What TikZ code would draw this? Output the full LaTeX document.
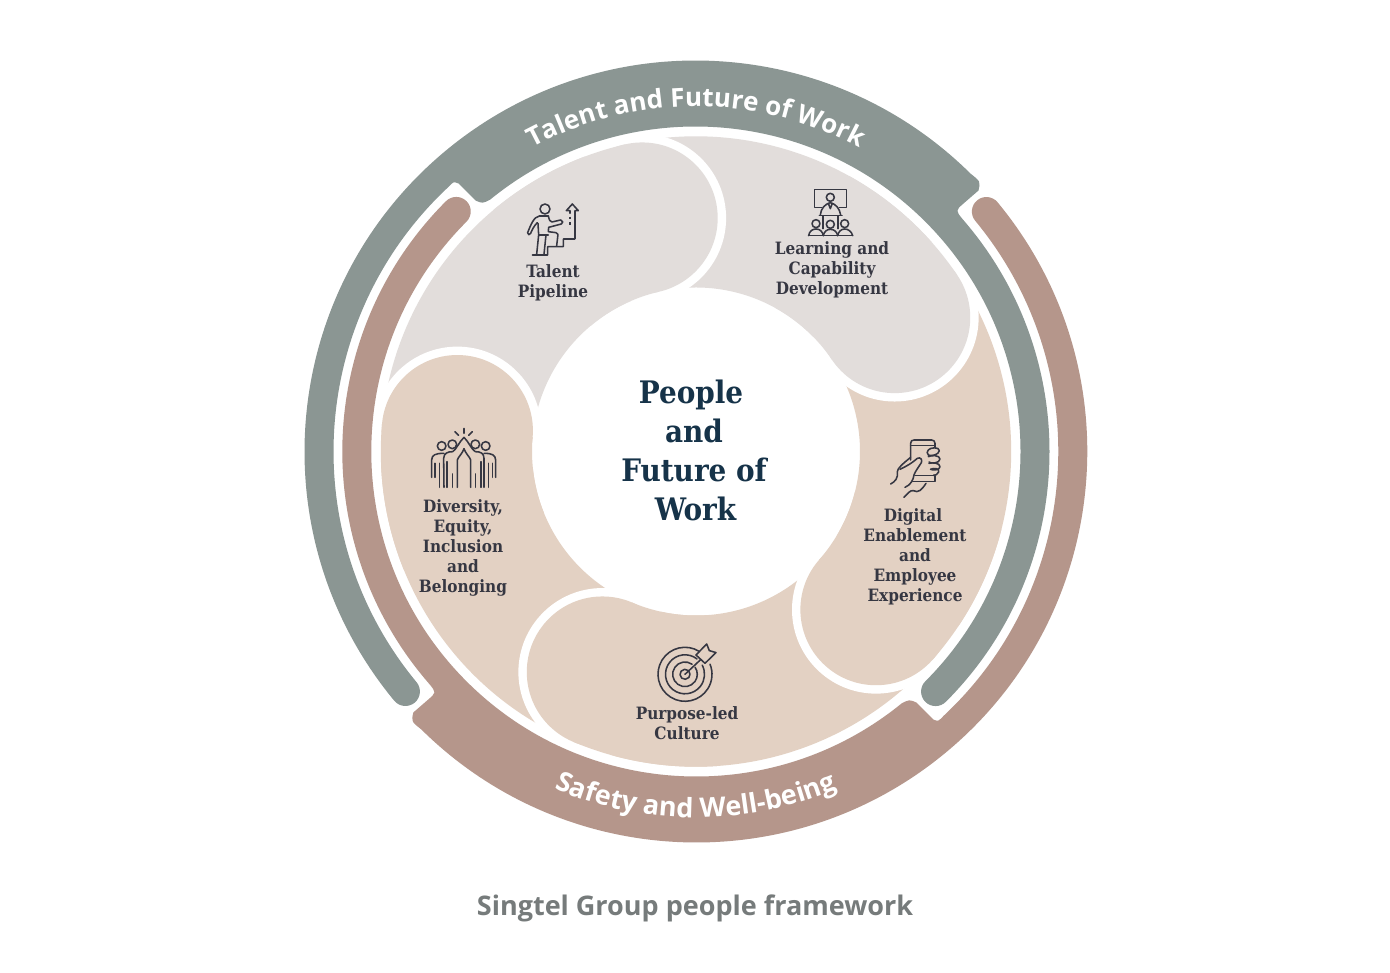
\documentclass[tikz,border=0pt]{standalone}
\usepackage{fontspec}
\usetikzlibrary{decorations.text}
\newfontfamily\labfont{DejaVu Serif Condensed}[BoldFont=* Bold]
\newfontfamily\capfont{Open Sans}
\definecolor{bandgrey}{HTML}{8B9693}
\definecolor{bandbrown}{HTML}{B5968B}
\definecolor{petalgrey}{HTML}{E2DDDB}
\definecolor{petaltan}{HTML}{E3D1C3}
\definecolor{inkdark}{HTML}{363742}
\definecolor{titleink}{HTML}{163349}
\definecolor{capink}{HTML}{767B7B}
\newcommand\bandtext{\capfont\bfseries\fontsize{26}{26}\selectfont}
\newcommand\bandtextb{\capfont\bfseries\fontsize{27}{27}\selectfont}
\newcommand\bandshape{%
  (219.6:391pt) arc[start angle=219.6,end angle=45.3,radius=391pt]
  .. controls (285pt,270pt) .. (283pt,261pt) -- (268pt,248pt)
  .. controls (260pt,241pt) .. (41:354pt)
  arc[start angle=41,end angle=-45,radius=354pt]
  arc[start angle=-45,delta angle=-180,radius=14.5pt]
  arc[start angle=-45,end angle=129.2,radius=325pt]
  .. controls (-213pt,248pt) .. (-220pt,251pt) -- (-237pt,268pt)
  .. controls (-242pt,270pt) .. (133.1:362pt)
  arc[start angle=133.1,end angle=219.6,radius=362pt]
  arc[start angle=39.6,delta angle=-180,radius=14.5pt] -- cycle}
\newcommand\sector[3]{\fill[#3] (#1:164pt) arc[start angle=#1,end angle=#2,radius=164pt] -- (#2:315.2pt) arc[start angle=#2,end angle=#1,radius=315.2pt] -- cycle;}
\tikzset{
  iconline/.style={draw=inkdark,line width=1.55pt,line cap=round,line join=round},
  lab/.style={text=inkdark,align=center,inner sep=0pt,font=\labfont\bfseries\fontsize{17}{20}\selectfont},
}
\begin{document}
\begin{tikzpicture}[x=1pt,y=1pt]
\useasboundingbox (0,0) rectangle (1390,-973);
\fill[white] (0,0) rectangle (1390,-973);
\begin{scope}[shift={(695.5,-451.5)}]
  % bands
  \fill[bandgrey] \bandshape;
  \begin{scope}[shift={(0.8,0)},rotate=180]\fill[bandbrown] \bandshape;\end{scope}
\end{scope}
\begin{scope}[shift={(696,-451.5)}]
  % petal bodies
  \sector{175}{103}{petalgrey}
  \sector{103}{34}{petalgrey}
  \sector{34}{-41.3}{petaltan}
  \sector{-41.3}{-113}{petaltan}
  \sector{-113}{-185}{petaltan}
  % heads, each cut into the next petal with a white ring
  \foreach \h/\c in {103/petalgrey,34/petalgrey,-41.3/petaltan,-113/petaltan,175/petaltan}{
    \fill[white] (\h:239.6pt) circle[radius=84pt];
    \pgfmathsetmacro\t{\h+27}
    \sector{\t}{\h}{\c}
    \fill[\c] (\h:239.6pt) circle[radius=75.6pt];
  }
  % band labels
  \path[decorate,decoration={text along path,text align=center,text color=white,text={|\bandtext|Talent and Future of Work}}]
    (140:345pt) arc[start angle=140,end angle=40,radius=345pt];
  \path[decorate,decoration={text along path,text align=center,text color=white,text={|\bandtextb|Safety and Well-being}}]
    (220:366pt) arc[start angle=220,end angle=320,radius=366pt];
\end{scope}

% centre title
\node[text=titleink,align=center,inner sep=0pt,font=\labfont\bfseries\fontsize{31}{39}\selectfont] (title) at (694,-450)
  {People\hspace*{6pt}\\and\\Future of\hspace*{7pt}\\\hspace*{3pt}Work};
% labels
\node[lab] (talent) at (553,-282.5) {Talent\\Pipeline};
\node[lab] (learning) at (832,-269.5) {Learning and\\Capability\\Development};
\node[lab] (digital) at (915,-556.5) {Digital\hspace*{4pt}\\Enablement\\and\\Employee\\Experience};
\node[lab] (purpose) at (687,-723.5) {Purpose-led\\Culture};
\node[lab] (diversity) at (463,-547.5) {Diversity,\\Equity,\\Inclusion\hspace*{3pt}\\and\hspace*{3pt}\\Belonging};
\node[text=capink,inner sep=0pt,font=\capfont\bfseries\fontsize{27}{30}\selectfont] (caption) at (695,-908) {Singtel Group people framework};

% icon: talent pipeline
\begin{scope}[shift={(380,-120)},x=0.3333pt,y=-0.3333pt]
  \draw[iconline] (495,267) circle[radius=15];
  \draw[iconline] (505,288) -- (478,288) .. controls (462,290) and (452,315) .. (443,338) .. controls (443,346) and (449,346) .. (452,340) .. controls (456,330) and (462,318) .. (472,308);
  \draw[iconline] (505,288) .. controls (508,300) and (510,306) .. (516,306) -- (542,300) .. controls (550,302) and (550,310) .. (544,312) -- (506,322) -- (505,335) -- (528,338) .. controls (534,340) and (536,345) .. (533,352) -- (530,378);
  \draw[iconline] (474,310) -- (476,345) -- (505,345);
  \draw[iconline] (476,345) -- (470,403);
  \draw[iconline] (498,345) -- (492,403);
  \draw[iconline] (457,405) -- (503,405) -- (503,380) -- (550,380) -- (550,357) -- (585,357) -- (585,272) -- (595,272) -- (577,252) -- (559,272) -- (570,272) -- (570,280);
  \draw[iconline,line cap=butt] (570,290) -- (570,298) (570,306) -- (570,316);
\end{scope}

% icon: learning
\begin{scope}[shift={(680,-120)},x=0.3333pt,y=-0.3333pt]
  \draw[iconline] (425,262) -- (403,262) -- (403,208) -- (500,208) -- (500,262) -- (478,262);
  \draw[iconline] (451,232) circle[radius=12];
  \draw[iconline] (421,285) .. controls (423,265) and (435,252) .. (451,248) .. controls (467,252) and (479,265) .. (482,285);
  \draw[iconline] (445,250) -- (451,266) -- (457,250);
  \draw[iconline] (418,287) -- (486,287);
  \draw[iconline] (429,287) -- (429,326) (474,287) -- (474,326);
  \draw[iconline] (408,311) circle[radius=12] (451,313) circle[radius=12] (494,311) circle[radius=12];
  \draw[iconline] (386,347) -- (518,347);
  \draw[iconline] (386,347) .. controls (388,333) and (398,327) .. (408,327) .. controls (420,327) and (428,335) .. (430,347);
  \draw[iconline] (430,347) .. controls (432,335) and (441,328) .. (451,328) .. controls (462,328) and (471,335) .. (473,347);
  \draw[iconline] (473,347) .. controls (475,335) and (484,327) .. (494,327) .. controls (505,327) and (515,335) .. (518,347);
\end{scope}

% icon: digital
\begin{scope}[shift={(780,-400)},x=0.3333pt,y=-0.3333pt]
  \draw[iconline] (392,180) -- (392,130) .. controls (392,123) and (396,120) .. (402,120) -- (455,120) .. controls (461,120) and (465,124) .. (465,130) -- (465,142);
  \draw[iconline] (392,136) -- (462,136);
  \draw[iconline] (405,226) -- (465,226) -- (465,244) -- (398,244);
  \draw[iconline] (445,150) .. controls (450,142) and (478,140) .. (478,152) .. controls (478,164) and (452,170) .. (445,165) .. controls (440,160) and (441,154) .. (445,150);
  \draw[iconline] (445,170) .. controls (452,165) and (480,165) .. (480,177) .. controls (480,190) and (452,192) .. (447,186);
  \draw[iconline] (447,190) .. controls (455,187) and (480,188) .. (480,200) .. controls (480,210) and (460,212) .. (452,208);
  \draw[iconline] (452,208) .. controls (460,203) and (480,205) .. (476,216) .. controls (474,224) and (465,226) .. (460,226);
  \draw[iconline] (332,252) .. controls (345,245) and (355,235) .. (352,215) .. controls (352,205) and (370,190) .. (392,172);
  \draw[iconline] (360,208) .. controls (365,205) and (390,195) .. (412,175) .. controls (422,170) and (428,180) .. (424,188) .. controls (418,198) and (405,215) .. (402,225) .. controls (400,240) and (392,255) .. (375,262);
  \draw[iconline] (372,292) .. controls (385,280) and (390,270) .. (400,272) .. controls (415,280) and (425,270) .. (438,250);
\end{scope}

% icon: purpose
\begin{scope}[shift={(685,-674.3)}]
  \draw[iconline] (58:27pt) arc[start angle=58,end angle=382,radius=27pt];
  \draw[iconline] (52:19.5pt) arc[start angle=52,end angle=388,radius=19.5pt];
  \draw[iconline] (55:12.3pt) arc[start angle=55,end angle=395,radius=12.3pt];
  \draw[iconline] (50:5pt) arc[start angle=50,end angle=400,radius=5pt];
  \draw[iconline] (0,0) -- (16,15);
  \draw[iconline] (11,19.3) -- (21.7,30.3) -- (24.3,23.7) -- (31,21.7) -- (20,11) -- cycle;
\end{scope}

% icon: diversity
\begin{scope}[shift={(370,-400)},x=0.3333pt,y=-0.3333pt]
  \draw[iconline] (282,85) -- (282,100) (255,95) -- (266,106) (307,95) -- (296,106);
  \draw[iconline] (215,138) circle[radius=13] (247,133) circle[radius=13] (316,133) circle[radius=13] (347,138) circle[radius=13];
  \draw[iconline] (262,262) -- (262,180) .. controls (265,170) and (278,160) .. (282,146) .. controls (286,160) and (299,170) .. (302,180) -- (302,262);
  \draw[iconline] (222,262) -- (221,175) .. controls (222,160) and (232,155) .. (248,155) .. controls (258,150) and (268,125) .. (282,112) .. controls (296,125) and (305,150) .. (316,155) .. controls (332,155) and (342,160) .. (342,175) -- (342,262);
  \draw[iconline] (185,232) -- (185,180) .. controls (186,165) and (195,160) .. (222,160);
  \draw[iconline] (377,232) -- (377,180) .. controls (376,165) and (367,160) .. (342,160);
  \draw[iconline] (195,190) -- (195,232) (367,190) -- (367,232);
  \draw[iconline] (208,190) -- (208,262) (231,185) -- (231,262) (247,222) -- (247,262);
  \draw[iconline] (316,222) -- (316,262) (333,185) -- (333,262) (355,190) -- (355,262);
\end{scope}
\end{tikzpicture}
\end{document}
